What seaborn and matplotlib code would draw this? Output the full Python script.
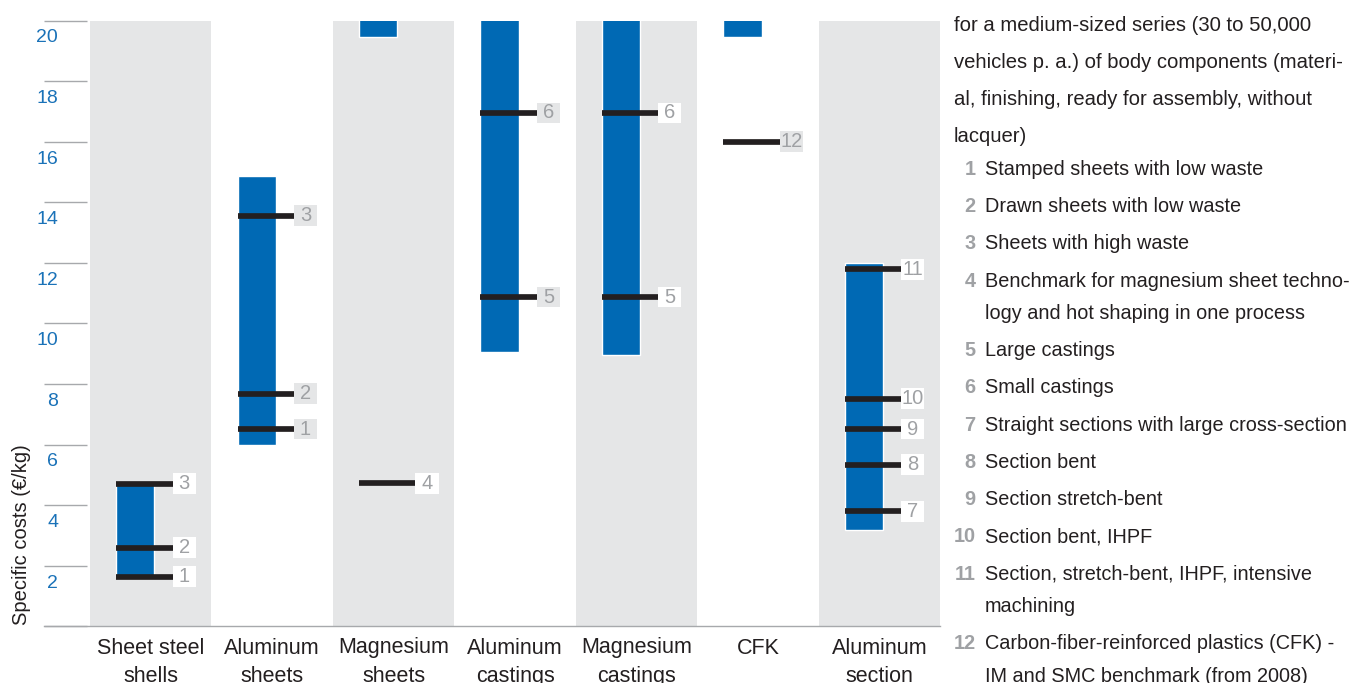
import numpy as np
import pandas as pd
import matplotlib
matplotlib.use("Agg")
import matplotlib.pyplot as plt
import seaborn as sns
from matplotlib.patches import Rectangle
from matplotlib.transforms import blended_transform_factory

# ---------------------------------------------------------------------------
# Data
# ---------------------------------------------------------------------------
categories = [
    "Sheet steel\nshells", "Aluminum\nsheets", "Magnesium\nsheets",
    "Aluminum\ncastings", "Magnesium\ncastings", "CFK", "Aluminum\nsection",
]
range_low = [1.64, 6.0, 19.47, 9.04, 8.97, 19.47, 3.19]
range_high = [4.71, 14.87, 21.0, 21.0, 21.0, 21.0, 11.99]   # >20 runs off the top

marker_cat = [0, 0, 0, 1, 1, 1, 2, 3, 3, 4, 4, 5, 6, 6, 6, 6, 6]
marker_num = ["1", "2", "3", "1", "2", "3", "4", "5", "6", "5", "6", "12",
              "7", "8", "9", "10", "11"]
marker_val = [1.64, 2.59, 4.71, 6.51, 7.68, 13.56, 4.72, 10.87, 16.95,
              10.87, 16.95, 16.0, 3.80, 5.34, 6.51, 7.52, 11.78]

y_ticks = [0, 2, 4, 6, 8, 10, 12, 14, 16, 18, 20]

intro_lines = [
    "for a medium-sized series (30 to 50,000",
    "vehicles p. a.) of body components (materi-",
    "al, finishing, ready for assembly, without",
    "lacquer)",
]
legend_items = [
    ("1", ["Stamped sheets with low waste"]),
    ("2", ["Drawn sheets with low waste"]),
    ("3", ["Sheets with high waste"]),
    ("4", ["Benchmark for magnesium sheet techno-",
           "logy and hot shaping in one process"]),
    ("5", ["Large castings"]),
    ("6", ["Small castings"]),
    ("7", ["Straight sections with large cross-section"]),
    ("8", ["Section bent"]),
    ("9", ["Section stretch-bent"]),
    ("10", ["Section bent, IHPF"]),
    ("11", ["Section, stretch-bent, IHPF, intensive", "machining"]),
    ("12", ["Carbon-fiber-reinforced plastics (CFK) -",
            "IM and SMC benchmark (from 2008)"]),
]

# ---------------------------------------------------------------------------
# Style
# ---------------------------------------------------------------------------
BLUE = "#0069b4"
TICK_BLUE = "#1a72b8"
BAND = "#e5e6e7"
DARK = "#231f20"
MID = "#a7a9ac"
NUM = "#9fa1a4"

sns.set_style("white")
plt.rcParams["font.family"] = ["Liberation Sans", "DejaVu Sans"]

W_PX, H_PX = 1356, 683
fig = plt.figure(figsize=(W_PX / 100, H_PX / 100), dpi=100)
ax = fig.add_axes([44 / W_PX, (H_PX - 626.3) / H_PX,
                   (940 - 44) / W_PX, (626.3 - 20.5) / H_PX])

# alternating background bands
bands = pd.DataFrame({"cat": categories, "top": [y_ticks[-1]] * len(categories)})
band_colors = [BAND if i % 2 == 0 else "white" for i in range(len(categories))]
sns.barplot(data=bands, x="cat", y="top", hue="cat", palette=band_colors,
            width=1.0, saturation=1, legend=False, linewidth=0, ax=ax)

pos = np.arange(len(categories))
bar_w = 0.315
bar_off = -0.285
line_end = 0.18
box_w = 0.19

# cost ranges
ax.bar(pos + bar_off, np.array(range_high) - np.array(range_low),
       bottom=range_low, width=bar_w, align="edge", color=BLUE, zorder=3)

# markers with numbered boxes
box_h = 20.7 / 30.29
for c, n, v in zip(marker_cat, marker_num, marker_val):
    ax.hlines(v, c + bar_off, c + line_end, color=DARK, lw=4.1,
              capstyle="butt", zorder=4)
    ax.add_patch(Rectangle((c + line_end, v - box_h / 2), box_w, box_h,
                           facecolor="white" if c % 2 == 0 else BAND,
                           edgecolor="none", zorder=4))
    ax.text(c + line_end + box_w / 2, v, n, ha="center", va="center",
            fontsize=14.5, color=NUM, zorder=5)

ax.set_xlim(-0.5 - 46 / 121.4, len(categories) - 0.5)
ax.set_ylim(0, y_ticks[-1])

# y axis: short grey rules with labels hanging below them
ax.set_yticks(y_ticks)
ax.set_yticklabels([])
ax.tick_params(axis="y", direction="in", length=43 * 0.72, width=1.0, color=MID,
               left=True)
lab_tr = blended_transform_factory(fig.transFigure, ax.transData)
for t in y_ticks[1:]:
    ax.text(58 / W_PX, t - 17.4 / 30.29, str(t), transform=lab_tr,
            ha="right", va="center", fontsize=14, color=TICK_BLUE)

# category labels, two lines each, below the baseline
ax.set_xticks(pos)
ax.set_xticklabels([])
ax.tick_params(axis="x", length=0)
ax.set_xlabel("")
ax.set_ylabel("")
cat_tr = blended_transform_factory(ax.transData, fig.transFigure)
for p, cat in zip(pos, categories):
    for k, part in enumerate(cat.split("\n")):
        ax.text(p, (H_PX - (653.5 + 28.5 * k)) / H_PX, part, transform=cat_tr,
                ha="center", va="baseline", fontsize=15.5, color=DARK,
                clip_on=False)

for s in ["top", "right", "left"]:
    ax.spines[s].set_visible(False)
ax.spines["bottom"].set_color(MID)
ax.spines["bottom"].set_linewidth(1.0)

fig.text(22 / W_PX, (H_PX - 625) / H_PX, "Specific costs (\u20ac/kg)",
         rotation=90, ha="center", va="bottom", fontsize=14.5, color=DARK)

# right-hand legend text
def fy(baseline_px):
    return (H_PX - baseline_px) / H_PX

base = 31
for line in intro_lines:
    fig.text(954 / W_PX, fy(base), line, ha="left", va="baseline",
             fontsize=14.6, color=DARK)
    base += 37
base = 175
for num, lines in legend_items:
    fig.text(975.5 / W_PX, fy(base), num, ha="right", va="baseline",
             fontsize=14.3, color=NUM, fontweight="bold")
    for k, line in enumerate(lines):
        if k > 0:
            base += 32.5
        fig.text(985 / W_PX, fy(base), line, ha="left", va="baseline",
                 fontsize=14.3, color=DARK)
    base += 37.2

fig.savefig("out.png", dpi=100)
